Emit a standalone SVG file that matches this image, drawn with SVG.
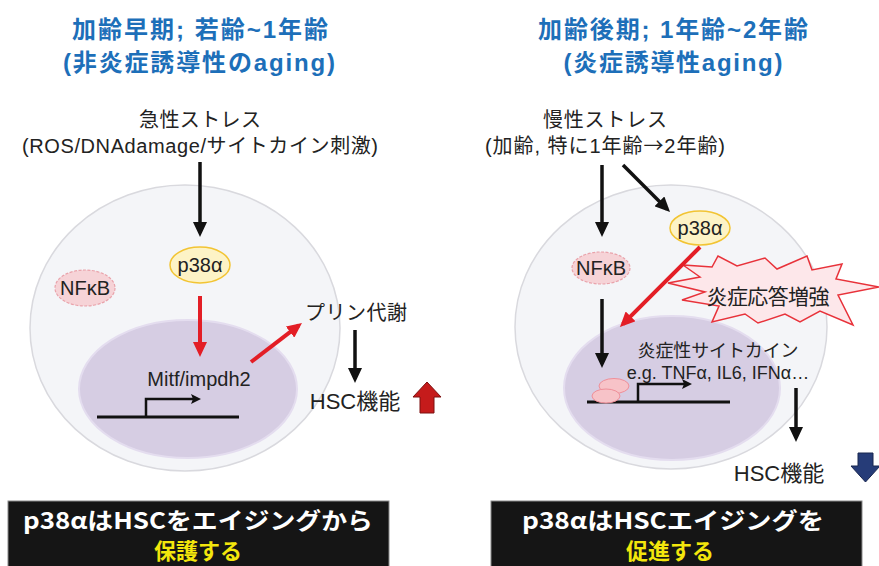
<svg xmlns="http://www.w3.org/2000/svg" width="879" height="566" viewBox="0 0 879 566">
  <style>
    .title { font-family: "Liberation Sans", "Noto Sans CJK JP", sans-serif; font-weight: bold; font-size: 24px; fill: #1d6fb9; text-anchor: middle; }
    .body { font-family: "Liberation Sans", "Noto Sans CJK JP", sans-serif; font-size: 19px; fill: #222; text-anchor: middle; }
    .cell { fill: #f4f5f8; stroke: #d9d9de; stroke-width: 1.5; }
    .nucleus { fill: #d6cde3; stroke: #e4ddef; stroke-width: 2; }
    .p38 { fill: #fdf3c6; stroke: #f2c433; stroke-width: 1.5; }
    .nfkb { fill: #f6d3d7; stroke: #e9a3ab; stroke-width: 1.2; stroke-dasharray: 3 1.5; }
    .blk { stroke: #111; stroke-width: 3.5; fill: none; }
    .red { stroke: #e31e26; stroke-width: 4; fill: none; }
    .gene { stroke: #111; stroke-width: 3; fill: none; }
    .prom { stroke: #111; stroke-width: 2.5; fill: none; }
    .box { fill: #151515; stroke: #8a8a8a; stroke-width: 1; }
    .boxtxt { font-family: "Noto Sans CJK JP", "Liberation Sans", sans-serif; font-weight: bold; font-size: 23px; text-anchor: middle; }
    .arrowch { font-family: "Noto Sans CJK JP", sans-serif; }
  </style>
  <defs>
    <marker id="ah-black" markerUnits="userSpaceOnUse" viewBox="0 0 15 14" refX="11" refY="7" markerWidth="15" markerHeight="14" orient="auto">
      <path d="M0,0 L15,7 L0,14 z" fill="#111"/>
    </marker>
    <marker id="ah-red" markerUnits="userSpaceOnUse" viewBox="0 0 15 14" refX="11" refY="7" markerWidth="15" markerHeight="14" orient="auto">
      <path d="M0,0 L15,7 L0,14 z" fill="#e31e26"/>
    </marker>
    <marker id="ah-prom" markerUnits="userSpaceOnUse" viewBox="0 0 10 10" refX="6" refY="5" markerWidth="10" markerHeight="10" orient="auto">
      <path d="M0,0 L10,5 L0,10 L2,5 z" fill="#111"/>
    </marker>
  </defs>

  <rect x="0" y="0" width="879" height="566" fill="#ffffff"/>

  <!-- Left panel: early aging -->
  <g id="title-left">
    <text class="title" x="200" y="38" textLength="256" lengthAdjust="spacing">加齢早期; 若齢~1年齢</text>
    <text class="title" x="199" y="71" textLength="272" lengthAdjust="spacing">(非炎症誘導性のaging)</text>
  </g>
  <g id="stress-left">
    <text class="body" x="200" y="127" style="font-size:20px" textLength="122" lengthAdjust="spacing">急性ストレス</text>
    <text class="body" x="200" y="153" style="font-size:20px" textLength="356" lengthAdjust="spacing">(ROS/DNAdamage/サイトカイン刺激)</text>
  </g>
  <g id="cell-left">
    <ellipse class="cell" cx="185" cy="328" rx="155" ry="143"/>
  </g>
  <g id="nucleus-left">
    <ellipse class="nucleus" cx="188" cy="389" rx="109" ry="69"/>
    <text class="body" x="199" y="386" style="font-size:20px">Mitf/impdh2</text>
    <line class="gene" x1="97" y1="417" x2="239" y2="417"/>
    <path class="prom" d="M146,417 V399 H197" marker-end="url(#ah-prom)"/>
  </g>
  <g id="p38-left">
    <ellipse class="p38" cx="200" cy="265" rx="30" ry="18"/>
    <text class="body" x="200" y="272" style="font-size:20px">p38α</text>
  </g>
  <g id="nfkb-left">
    <ellipse class="nfkb" cx="85" cy="288" rx="30" ry="18"/>
    <text class="body" x="85" y="295" style="font-size:20px">NFκB</text>
  </g>
  <g id="purine">
    <text class="body" x="356" y="320" style="font-size:20px" textLength="102" lengthAdjust="spacing">プリン代謝</text>
  </g>
  <g id="hsc-up">
    <text class="body" x="355" y="409" style="font-size:22px">HSC機能</text>
    <polygon points="427,382 441,397 434,397 434,413 420,413 420,397 413,397" fill="#c51b1b" stroke="#7d1010" stroke-width="1"/>
  </g>

  <!-- Right panel: late aging -->
  <g id="title-right">
    <text class="title" x="673" y="38" textLength="270" lengthAdjust="spacing">加齢後期; 1年齢~2年齢</text>
    <text class="title" x="673" y="71" textLength="219" lengthAdjust="spacing">(炎症誘導性aging)</text>
  </g>
  <g id="stress-right">
    <text class="body" x="605" y="127" style="font-size:20px" textLength="124" lengthAdjust="spacing">慢性ストレス</text>
    <text class="body" x="605" y="153" style="font-size:20px" textLength="240" lengthAdjust="spacing">(加齢, 特に1年齢<tspan class="arrowch">→</tspan>2年齢)</text>
  </g>
  <g id="cell-right">
    <ellipse class="cell" cx="671" cy="327" rx="156" ry="142"/>
  </g>
  <g id="nucleus-right">
    <ellipse class="nucleus" cx="672" cy="388" rx="108" ry="72"/>
    <text class="body" x="718" y="357" style="font-size:18px" textLength="161" lengthAdjust="spacing">炎症性サイトカイン</text>
    <text class="body" x="718" y="379" style="font-size:18px">e.g. TNFα, IL6, IFNα…</text>
    <line class="gene" x1="587" y1="402" x2="730" y2="402"/>
    <path class="prom" d="M638,402 V384 H688" marker-end="url(#ah-prom)"/>
    <ellipse cx="614" cy="386" rx="15" ry="7.5" fill="#f7c3c8" stroke="#ef8f99" stroke-width="1"/>
    <ellipse cx="606" cy="396" rx="14" ry="7" fill="#f7c3c8" stroke="#ef8f99" stroke-width="1"/>
  </g>
  <g id="p38-right">
    <ellipse class="p38" cx="700" cy="228" rx="30" ry="17"/>
    <text class="body" x="700" y="235" style="font-size:20px">p38α</text>
  </g>
  <g id="nfkb-right">
    <ellipse class="nfkb" cx="601" cy="268" rx="29" ry="16"/>
    <text class="body" x="601" y="275" style="font-size:20px">NFκB</text>
  </g>
  <g id="inflammation-burst">
    <polygon points="668,283 700,277 683,265 712,267 718,256 737,266 765,258 777,269 807,256 812,270 842,264 836,279 879,287 838,295 853,325 820,311 800,322 785,314 758,323 745,314 712,322 719,306 682,300 705,292" fill="#fde7ea" stroke="#e8323a" stroke-width="1.5" stroke-linejoin="miter"/>
    <text class="body" x="768" y="304" style="font-size:21px" textLength="123" lengthAdjust="spacing">炎症応答増強</text>
  </g>
  <g id="hsc-down">
    <text class="body" x="779" y="481" style="font-size:22px">HSC機能</text>
    <polygon points="858,453 873,453 873,466 880,466 865.5,482 851,466 858,466" fill="#263c78" stroke="#18264f" stroke-width="1"/>
  </g>

  <!-- Connectors -->
  <g id="connectors">
    <line class="blk" x1="200" y1="162" x2="200" y2="233" marker-end="url(#ah-black)"/>
    <line class="red" x1="200" y1="296" x2="200" y2="353" marker-end="url(#ah-red)"/>
    <line class="red" x1="251" y1="362" x2="298.8" y2="325.4" marker-end="url(#ah-red)"/>
    <line class="blk" x1="355" y1="330" x2="355" y2="379" marker-end="url(#ah-black)"/>
    <line class="blk" x1="602" y1="165" x2="602" y2="233" marker-end="url(#ah-black)"/>
    <line class="blk" x1="623" y1="165" x2="667.2" y2="209.2" marker-end="url(#ah-black)"/>
    <line class="blk" x1="602" y1="299" x2="602" y2="364" marker-end="url(#ah-black)"/>
    <line class="red" x1="700" y1="247" x2="622.8" y2="324.2" marker-end="url(#ah-red)"/>
    <line class="blk" x1="796" y1="388" x2="796" y2="438" marker-end="url(#ah-black)"/>
  </g>

  <!-- Conclusion boxes -->
  <g id="summary-left">
    <rect class="box" x="8" y="501" width="381" height="70"/>
    <text class="boxtxt" x="198" y="529" fill="#ffffff" textLength="350" lengthAdjust="spacingAndGlyphs">p38αはHSCをエイジングから</text>
    <text class="boxtxt" x="198" y="559" fill="#f3e60c" style="font-size:22px">保護する</text>
  </g>
  <g id="summary-right">
    <rect class="box" x="491" y="501" width="371" height="70"/>
    <text class="boxtxt" x="673" y="529" fill="#ffffff" textLength="302" lengthAdjust="spacingAndGlyphs">p38αはHSCエイジングを</text>
    <text class="boxtxt" x="670" y="559" fill="#f3e60c" style="font-size:22px">促進する</text>
  </g>
</svg>
